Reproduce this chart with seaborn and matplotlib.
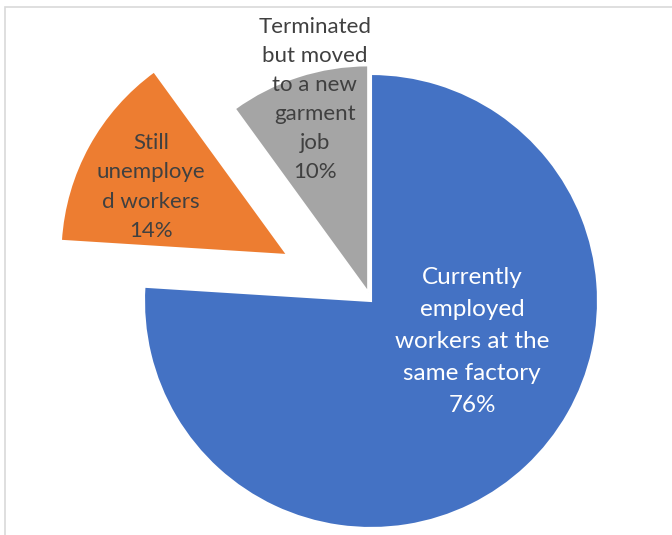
import matplotlib
matplotlib.use("Agg")
import matplotlib.pyplot as plt
from matplotlib.patches import Rectangle
import seaborn as sns

# Outcome of workers after the factory layoffs
categories = [
    "Currently\nemployed\nworkers at the\nsame factory",
    "Still\nunemploye\nd workers",
    "Terminated\nbut moved\nto a new\ngarment\njob",
]
shares = [76, 14, 10]
colors = ["#4472C4", "#ED7D31", "#A5A5A5"]
explode = [0.0, 0.42, 0.04]

# label placement relative to each wedge's own centre (radius units)
label_offsets = [(0.445, -0.18), (-0.60, 0.30), (-0.235, 0.85)]
label_colors = ["white", "#404040", "#404040"]
label_sizes = [17.5, 16, 16]
label_spacing = [1.65, 1.57, 1.57]

sns.set_theme(style="white")
plt.rcParams["font.family"] = ["Lato", "DejaVu Sans"]

W, H = 672, 535
cx, cy, r = 371, 301, 227

fig = plt.figure(figsize=(W / 100, H / 100), dpi=100)
ax = fig.add_axes([0, 0, 1, 1])

wedges, _ = ax.pie(
    shares,
    colors=colors,
    explode=explode,
    startangle=90,
    counterclock=False,
    radius=1.0,
    wedgeprops=dict(edgecolor="white", linewidth=1.5),
)

for w, name, val, off, tc, fs, ls in zip(wedges, categories, shares,
                                         label_offsets, label_colors,
                                         label_sizes, label_spacing):
    x0, y0 = w.center
    ax.text(x0 + off[0], y0 + off[1], f"{name}\n{val}%",
            ha="center", va="center", color=tc, fontsize=fs,
            linespacing=ls)

ax.set_xlim(-cx / r, (W - cx) / r)
ax.set_ylim(-(H - cy) / r, cy / r)
ax.set_aspect("equal", adjustable="box")
ax.axis("off")

# chart-area border
fig.patches.append(Rectangle((5 / W, -0.1), 1.2, 1.1 - 7 / H,
                             transform=fig.transFigure, fill=False,
                             edgecolor="#D9D9D9", linewidth=1.2))

fig.savefig("out.png", dpi=100, facecolor="white")
